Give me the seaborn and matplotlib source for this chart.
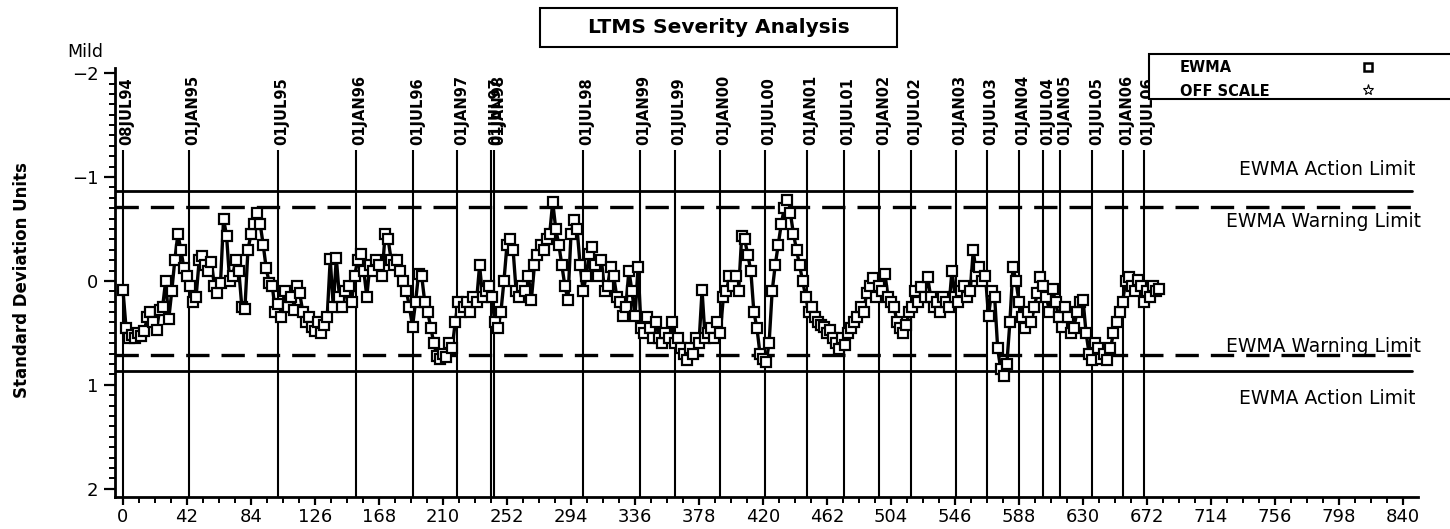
import numpy as np
import pandas as pd
import matplotlib
matplotlib.use("Agg")
import matplotlib.pyplot as plt
from matplotlib.patches import Rectangle
from matplotlib.lines import Line2D
from matplotlib.ticker import MultipleLocator
import seaborn as sns

# EWMA values, one every 2 tests (test 0 .. 680)
ewma = [
    0.09, 0.45, 0.55, 0.52, 0.55, 0.50, 0.53, 0.48, 0.35, 0.30,
    0.40, 0.47, 0.28, 0.25, 0.00, 0.37, 0.10, -0.20, -0.45, -0.30,
    -0.12, -0.05, 0.05, 0.20, 0.15, -0.20, -0.24, -0.15, -0.10, -0.18,
    0.05, 0.12, 0.02, -0.60, -0.43, 0.00, -0.05, -0.20, -0.10, 0.25,
    0.27, -0.30, -0.45, -0.55, -0.65, -0.55, -0.35, -0.12, 0.02, 0.05,
    0.30, 0.22, 0.35, 0.10, 0.25, 0.15, 0.28, 0.05, 0.12, 0.30,
    0.40, 0.35, 0.44, 0.48, 0.40, 0.50, 0.42, 0.35, -0.21, 0.25,
    -0.22, 0.15, 0.25, 0.10, 0.05, 0.20, -0.05, -0.20, -0.26, -0.10,
    0.15, -0.15, -0.10, -0.20, -0.15, -0.05, -0.45, -0.40, -0.20, -0.15,
    -0.20, -0.10, 0.00, 0.10, 0.25, 0.44, 0.20, -0.07, -0.05, 0.20,
    0.30, 0.45, 0.60, 0.72, 0.75, 0.70, 0.73, 0.60, 0.65, 0.40,
    0.20, 0.30, 0.25, 0.20, 0.30, 0.15, 0.20, -0.15, 0.15, 0.10,
    0.05, 0.15, 0.40, 0.45, 0.30, 0.00, -0.35, -0.40, -0.30, 0.10,
    0.15, 0.05, 0.10, -0.05, 0.18, -0.15, -0.25, -0.35, -0.30, -0.40,
    -0.45, -0.76, -0.50, -0.35, -0.15, 0.05, 0.18, -0.45, -0.59, -0.50,
    -0.15, 0.10, -0.05, -0.26, -0.33, -0.15, -0.05, -0.20, 0.10, 0.05,
    -0.13, -0.05, 0.15, 0.20, 0.34, 0.25, -0.10, 0.10, 0.34, -0.13,
    0.45, 0.50, 0.35, 0.45, 0.55, 0.40, 0.55, 0.60, 0.50, 0.55,
    0.40, 0.60, 0.55, 0.65, 0.70, 0.76, 0.65, 0.70, 0.55, 0.60,
    0.09, 0.55, 0.50, 0.45, 0.55, 0.40, 0.50, 0.15, 0.10, -0.05,
    0.05, -0.05, 0.10, -0.43, -0.40, -0.25, -0.10, 0.30, 0.45, 0.70,
    0.75, 0.78, 0.60, 0.10, -0.15, -0.35, -0.55, -0.70, -0.78, -0.65,
    -0.45, -0.30, -0.15, 0.00, 0.15, 0.30, 0.25, 0.35, 0.40, 0.42,
    0.44, 0.50, 0.47, 0.55, 0.60, 0.66, 0.55, 0.62, 0.50, 0.45,
    0.40, 0.35, 0.25, 0.30, 0.12, 0.05, -0.03, 0.15, 0.05, 0.10,
    -0.07, 0.15, 0.20, 0.25, 0.40, 0.45, 0.50, 0.42, 0.30, 0.25,
    0.10, 0.20, 0.06, 0.15, -0.04, 0.15, 0.25, 0.20, 0.30, 0.15,
    0.20, 0.25, -0.10, 0.15, 0.20, 0.10, 0.05, 0.15, 0.10, -0.30,
    -0.05, -0.13, 0.00, -0.05, 0.34, 0.10, 0.15, 0.65, 0.85, 0.92,
    0.80, 0.40, -0.13, 0.00, 0.20, 0.35, 0.45, 0.30, 0.40, 0.25,
    0.12, -0.04, 0.05, 0.15, 0.30, 0.08, 0.20, 0.35, 0.44, 0.25,
    0.35, 0.50, 0.45, 0.30, 0.20, 0.18, 0.50, 0.70, 0.76, 0.60,
    0.65, 0.75, 0.70, 0.76, 0.65, 0.50, 0.40, 0.30, 0.20, 0.00,
    -0.04, 0.05, 0.10, -0.01, 0.05, 0.20, 0.10, 0.15, 0.05, 0.10,
    0.08,
]
test_step = 2

date_labels = ["08JUL94", "01JAN95", "01JUL95", "01JAN96", "01JUL96", "01JAN97",
               "01JUL97", "01JAN98", "01JUL98", "01JAN99", "01JUL99", "01JAN00",
               "01JUL00", "01JAN01", "01JUL01", "01JAN02", "01JUL02", "01JAN03",
               "01JUL03", "01JAN04", "01JUL04", "01JAN05", "01JUL05", "01JAN06",
               "01JUL06"]
date_pos = [0, 43.3, 101.4, 152.6, 190.4, 219.3, 241.8, 243.6, 301.9, 339.3,
            362.3, 391.8, 421, 448.8, 473, 496.4, 516.8, 546.7, 566.7, 588,
            604, 615, 636, 656, 669.7]

action_limit = 0.866
warning_limit = 0.71
x_ticks = list(range(0, 841, 42))
y_ticks = [-2, -1, 0, 1, 2]

sns.set_style("ticks")
plt.rcParams["font.family"] = ["DejaVu Sans"]
plt.rcParams["text.color"] = "black"
plt.rcParams["xtick.color"] = "black"
plt.rcParams["ytick.color"] = "black"
plt.rcParams["xtick.labelcolor"] = "black"
plt.rcParams["ytick.labelcolor"] = "black"

fig = plt.figure(figsize=(14.5, 5.29), dpi=100)
ax = fig.add_axes([0.0793, 0.0605, 0.8986, 0.811])

xmin, xmax = -5.25, 849.8
ymin, ymax = 2.08, -2.05

df = pd.DataFrame({"test": np.arange(len(ewma)) * test_step, "ewma": ewma})
sns.lineplot(data=df, x="test", y="ewma", ax=ax, color="black", lw=2.4,
             estimator=None, sort=False, marker="s", markersize=7,
             markerfacecolor="white", markeredgecolor="black",
             markeredgewidth=1.6, zorder=3)

# date reference lines
ax.vlines(date_pos, -1.26, ymin, colors="black", lw=1.5, zorder=2)
for pos, lab in zip(date_pos, date_labels):
    ax.annotate(lab, xy=(pos, -1.31), xytext=(3, 0), textcoords="offset points",
                rotation=90, ha="center", va="bottom", fontsize=10.5,
                fontfamily="Liberation Sans Narrow", fontweight="bold",
                annotation_clip=False)

# limits
for lim in (-action_limit, action_limit):
    ax.plot([xmin, 846], [lim, lim], color="black", lw=2, zorder=2)
for lim in (-warning_limit, warning_limit):
    ax.plot([xmin, 846], [lim, lim], color="black", lw=2.4,
            linestyle=(0, (7, 3.6)), zorder=2)

lim_font = dict(fontsize=13.5, clip_on=False)
ax.text(848, -1.07, "EWMA Action Limit", ha="right", va="center", **lim_font)
ax.text(852, -0.57, "EWMA Warning Limit", ha="right", va="center", **lim_font)
ax.text(852, 0.63, "EWMA Warning Limit", ha="right", va="center", **lim_font)
ax.text(848, 1.13, "EWMA Action Limit", ha="right", va="center", **lim_font)

ax.set_xlim(xmin, xmax)
ax.set_ylim(ymin, ymax)
ax.set_xticks(x_ticks)
ax.set_yticks(y_ticks)
ax.xaxis.set_minor_locator(MultipleLocator(10.5))
ax.yaxis.set_minor_locator(MultipleLocator(0.1))
ax.tick_params(which="major", direction="out", length=6, width=1.6, labelsize=13,
               color="black", pad=2)
ax.tick_params(which="minor", direction="out", length=4, width=1.4, color="black")
ax.tick_params(axis="y", which="major", length=8, pad=4)
ax.set_xlabel("")
ax.set_ylabel("")
sns.despine(ax=ax)
for s in ("left", "bottom"):
    ax.spines[s].set_linewidth(2)
    ax.spines[s].set_color("black")

fig.text(22 / 1450, 1 - 280 / 529, "Standard Deviation Units", rotation=90,
         ha="center", va="center", fontsize=12, fontfamily="Liberation Sans Narrow",
         fontweight="bold")
fig.text(85 / 1450, 1 - 52 / 529, "Mild", ha="center", va="center", fontsize=12.5)

# title box
fig.patches.append(Rectangle((540 / 1450, 1 - 47 / 529), 357 / 1450, 39 / 529,
                             transform=fig.transFigure, fill=False, ec="black", lw=1.5))
fig.text(718.5 / 1450, 1 - 27.5 / 529, "LTMS Severity Analysis", ha="center",
         va="center", fontsize=14.5, fontweight="bold")

# legend box
fig.patches.append(Rectangle((1149 / 1450, 1 - 99 / 529), 310 / 1450, 45 / 529,
                             transform=fig.transFigure, fill=True, fc="white",
                             ec="black", lw=1.5, zorder=5))
fig.text(1180 / 1450, 1 - 68 / 529, "EWMA", ha="left", va="center", fontsize=10.5,
         fontweight="bold", zorder=6)
fig.text(1180 / 1450, 1 - 91 / 529, "OFF SCALE", ha="left", va="center", fontsize=10.5,
         fontweight="bold", zorder=6)
fig.lines.append(Line2D([1368 / 1450], [1 - 67 / 529], transform=fig.transFigure,
                        marker="s", markersize=6, mfc="white", mec="black", mew=1.8,
                        ls="none", zorder=6))
fig.lines.append(Line2D([1368 / 1450], [1 - 90 / 529], transform=fig.transFigure,
                        marker="*", markersize=8, mfc="white", mec="black", mew=0.8,
                        ls="none", zorder=6))

fig.savefig("out.png", dpi=100)
